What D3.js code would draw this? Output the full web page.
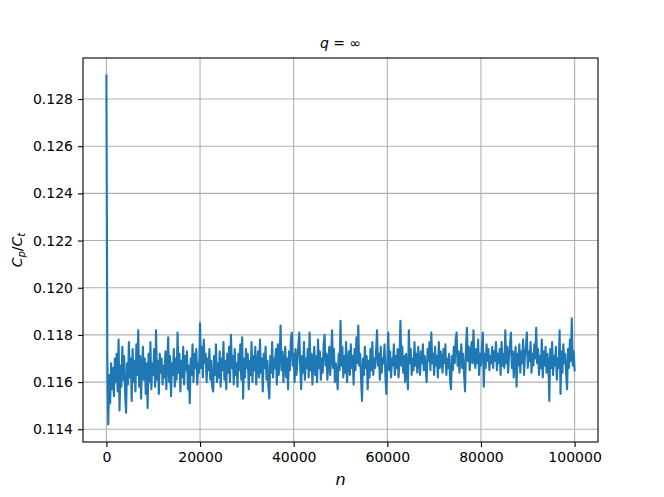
<!DOCTYPE html>
<html><head><meta charset="utf-8">
<script src="https://cdn.jsdelivr.net/npm/d3@7/dist/d3.min.js"></script>
<style>body{margin:0;background:#fff}svg{display:block}text{font-family:"DejaVu Sans",sans-serif}</style>
</head><body>
<script>
const step = 200;
const values = [
0.1290,0.1169,0.1142,0.1163,0.1151,0.1168,0.1157,0.1166,0.1154,0.1170,
0.1160,0.1172,0.1156,0.1178,0.1148,0.1167,0.1158,0.1175,0.1161,0.1171,
0.1155,0.1147,0.1168,0.1159,0.1177,0.1162,0.1170,0.1152,0.1174,0.1160,
0.1169,0.1156,0.1176,0.1163,0.1182,0.1158,0.1171,0.1153,0.1166,0.1175,
0.1161,0.1170,0.1155,0.1168,0.1149,0.1172,0.1160,0.1177,0.1157,0.1168,
0.1163,0.1174,0.1158,0.1182,0.1161,0.1169,0.1155,0.1172,0.1164,0.1170,
0.1159,0.1167,0.1162,0.1173,0.1157,0.1169,0.1179,0.1160,0.1171,0.1154,
0.1168,0.1163,0.1174,0.1158,0.1170,0.1161,0.1181,0.1164,0.1172,0.1156,
0.1169,0.1162,0.1175,0.1159,0.1171,0.1165,0.1173,0.1157,0.1167,0.1151,
0.1170,0.1163,0.1176,0.1160,0.1172,0.1166,0.1174,0.1159,0.1168,0.1164,
0.1185,0.1166,0.1175,0.1162,0.1178,0.1168,0.1172,0.1160,0.1170,0.1165,
0.1174,0.1161,0.1169,0.1158,0.1156,0.1171,0.1163,0.1176,0.1160,0.1168,
0.1162,0.1173,0.1158,0.1170,0.1165,0.1177,0.1161,0.1169,0.1157,0.1172,
0.1164,0.1175,0.1160,0.1180,0.1166,0.1171,0.1159,0.1174,0.1163,0.1168,
0.1158,0.1172,0.1165,0.1176,0.1161,0.1179,0.1153,0.1170,0.1162,0.1174,
0.1166,0.1172,0.1157,0.1169,0.1163,0.1177,0.1160,0.1171,0.1165,0.1175,
0.1159,0.1168,0.1173,0.1162,0.1178,0.1164,0.1170,0.1156,0.1172,0.1166,
0.1175,0.1161,0.1169,0.1158,0.1153,0.1171,0.1164,0.1177,0.1162,0.1170,
0.1166,0.1174,0.1159,0.1176,0.1163,0.1171,0.1184,0.1165,0.1173,0.1160,
0.1168,0.1175,0.1162,0.1170,0.1157,0.1173,0.1165,0.1178,0.1181,0.1167,
0.1172,0.1160,0.1174,0.1163,0.1169,0.1176,0.1181,0.1166,0.1157,0.1171,
0.1164,0.1177,0.1161,0.1170,0.1166,0.1174,0.1162,0.1181,0.1165,0.1172,
0.1159,0.1169,0.1175,0.1163,0.1171,0.1160,0.1178,0.1166,0.1173,0.1161,
0.1170,0.1164,0.1176,0.1180,0.1167,0.1172,0.1161,0.1169,0.1175,0.1163,
0.1171,0.1182,0.1166,0.1174,0.1160,0.1168,0.1163,0.1157,0.1172,0.1165,
0.1186,0.1167,0.1175,0.1162,0.1171,0.1164,0.1177,0.1160,0.1169,0.1173,
0.1163,0.1176,0.1166,0.1171,0.1159,0.1174,0.1165,0.1179,0.1168,0.1184,
0.1167,0.1172,0.1161,0.1152,0.1170,0.1163,0.1175,0.1166,0.1171,0.1157,
0.1169,0.1162,0.1174,0.1165,0.1177,0.1163,0.1170,0.1166,0.1173,0.1182,
0.1167,0.1172,0.1161,0.1175,0.1164,0.1170,0.1168,0.1176,0.1162,0.1155,
0.1168,0.1181,0.1165,0.1173,0.1162,0.1170,0.1167,0.1176,0.1163,0.1171,
0.1166,0.1174,0.1162,0.1169,0.1186,0.1167,0.1175,0.1164,0.1171,0.1160,
0.1172,0.1166,0.1157,0.1182,0.1168,0.1174,0.1163,0.1170,0.1165,0.1177,
0.1167,0.1172,0.1164,0.1175,0.1169,0.1163,0.1173,0.1168,0.1176,0.1165,
0.1171,0.1166,0.1160,0.1174,0.1169,0.1177,0.1165,0.1181,0.1168,0.1172,
0.1163,0.1175,0.1167,0.1171,0.1162,0.1177,0.1166,0.1173,0.1169,0.1164,
0.1174,0.1168,0.1176,0.1163,0.1170,0.1166,0.1172,0.1161,0.1157,0.1171,
0.1165,0.1175,0.1168,0.1178,0.1181,0.1167,0.1173,0.1164,0.1170,0.1176,
0.1166,0.1172,0.1163,0.1156,0.1174,0.1183,0.1169,0.1175,0.1165,0.1171,
0.1177,0.1168,0.1182,0.1170,0.1166,0.1174,0.1168,0.1178,0.1163,0.1172,
0.1167,0.1175,0.1181,0.1158,0.1172,0.1166,0.1176,0.1169,0.1174,0.1165,
0.1171,0.1168,0.1175,0.1166,0.1173,0.1169,0.1177,0.1165,0.1172,0.1168,
0.1174,0.1163,0.1177,0.1167,0.1172,0.1166,0.1182,0.1168,0.1175,0.1164,
0.1171,0.1176,0.1181,0.1166,0.1173,0.1162,0.1170,0.1175,0.1158,0.1172,
0.1167,0.1176,0.1164,0.1173,0.1168,0.1178,0.1163,0.1171,0.1175,0.1181,
0.1166,0.1173,0.1169,0.1177,0.1164,0.1172,0.1167,0.1176,0.1170,0.1183,
0.1168,0.1174,0.1163,0.1171,0.1166,0.1178,0.1162,0.1173,0.1167,0.1175,
0.1164,0.1172,0.1168,0.1152,0.1174,0.1166,0.1177,0.1163,0.1171,0.1167,
0.1175,0.1161,0.1170,0.1166,0.1182,0.1155,0.1173,0.1164,0.1176,0.1168,
0.1172,0.1163,0.1157,0.1174,0.1166,0.1178,0.1169,0.1187,0.1167,0.1173,
0.1165
];
const xTicks = [0, 20000, 40000, 60000, 80000, 100000];
const yTicks = [0.114, 0.116, 0.118, 0.120, 0.122, 0.124, 0.126, 0.128];
const title = "q = ∞";

const W = 664, H = 497;
const L = 83, R = 598, T = 58, B = 442;
const data = values.map((v, i) => ({n: i * step, v}));

const svg = d3.select("body").append("svg").attr("width", W).attr("height", H);

const xExt = d3.extent(data, d => d.n), yExt = d3.extent(data, d => d.v);
const xm = (xExt[1] - xExt[0]) * 0.05, ym = (yExt[1] - yExt[0]) * 0.05;
const x = d3.scaleLinear().domain([xExt[0] - xm, xExt[1] + xm]).range([L, R]);
const y = d3.scaleLinear().domain([yExt[0] - ym, yExt[1] + ym]).range([B, T]);

// grid
const g = svg.append("g");
g.selectAll(".gx").data(xTicks).join("line")
  .attr("x1", d => x(d)).attr("x2", d => x(d)).attr("y1", T).attr("y2", B)
  .attr("stroke", "#b0b0b0").attr("stroke-width", 1.1);
g.selectAll(".gy").data(yTicks).join("line")
  .attr("y1", d => y(d)).attr("y2", d => y(d)).attr("x1", L).attr("x2", R)
  .attr("stroke", "#b0b0b0").attr("stroke-width", 1.1);

// line
svg.append("defs").append("clipPath").attr("id", "clip")
  .append("rect").attr("x", L).attr("y", T).attr("width", R - L).attr("height", B - T);
svg.append("path").datum(data)
  .attr("clip-path", "url(#clip)")
  .attr("fill", "none").attr("stroke", "#1f77b4").attr("stroke-width", 2.1)
  .attr("stroke-linejoin", "round").attr("stroke-linecap", "square")
  .attr("d", d3.line().x(d => x(d.n)).y(d => y(d.v)));

// axes
const xAxis = svg.append("g").attr("transform", `translate(0,${B})`)
  .call(d3.axisBottom(x).tickValues(xTicks).tickSize(5).tickPadding(5).tickFormat(d3.format("d")));
const yAxis = svg.append("g").attr("transform", `translate(${L},0)`)
  .call(d3.axisLeft(y).tickValues(yTicks).tickSize(5).tickPadding(5).tickFormat(d3.format(".3f")));
[xAxis, yAxis].forEach(a => {
  a.select(".domain").remove();
  a.selectAll(".tick line").attr("stroke", "#000").attr("stroke-width", 1.1);
  a.selectAll(".tick text").attr("fill", "#000").style("font-size", "14px")
    .style("font-family", "'DejaVu Sans', sans-serif");
});

// spines
svg.append("rect").attr("x", L).attr("y", T).attr("width", R - L).attr("height", B - T)
  .attr("fill", "none").attr("stroke", "#000").attr("stroke-width", 1.1);

// labels
svg.append("text").attr("x", (L + R) / 2).attr("y", 485).attr("text-anchor", "middle")
  .style("font-size", "16px").style("font-style", "italic").text("n");

const yl = svg.append("text").attr("transform", `translate(22,${(T + B) / 2}) rotate(-90)`)
  .attr("text-anchor", "middle").style("font-size", "14px");
yl.append("tspan").style("font-style", "italic").text("C");
yl.append("tspan").attr("dy", 3).style("font-size", "10px").style("font-style", "italic").text("p");
yl.append("tspan").attr("dy", -3).text("/");
yl.append("tspan").style("font-style", "italic").text("C");
yl.append("tspan").attr("dy", 3).style("font-size", "10px").style("font-style", "italic").text("t");

const tt = svg.append("text").attr("x", (L + R) / 2).attr("y", 48).attr("text-anchor", "middle")
  .style("font-size", "14px");
tt.append("tspan").style("font-style", "italic").text("q");
tt.append("tspan").text(" = ∞");
</script>
</body></html>
